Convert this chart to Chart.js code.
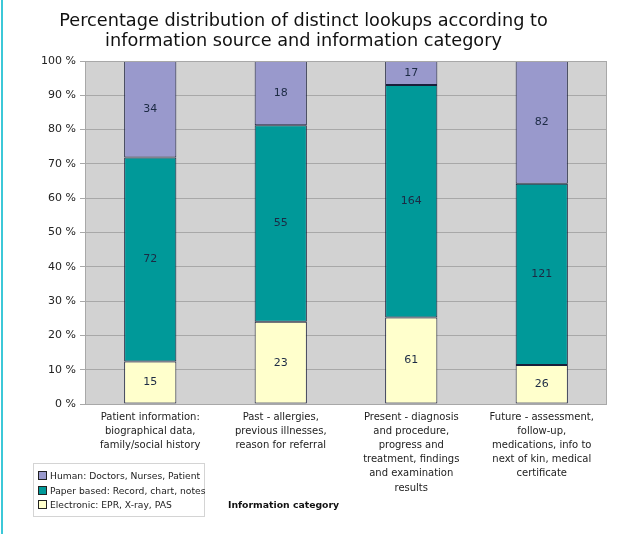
<!DOCTYPE html>
<html>
<head>
<meta charset="utf-8">
<script src="https://cdn.jsdelivr.net/npm/chart.js@4/dist/chart.umd.min.js"></script>
<style>
  html, body { margin: 0; padding: 0; background: #fff; }
  #wrap { position: relative; width: 644px; height: 534px; font-family: "DejaVu Sans", Verdana, sans-serif; }
  #wrap:before { content: ""; position: absolute; left: 1px; top: 0; width: 2px; height: 534px; background: #3cc8d8; }
  #legend { position: absolute; left: 33px; top: 463px; width: 172px; height: 54px; border: 1px solid #d4d4d4; box-sizing: border-box; padding: 5px 0 0 4px; font-size: 9.2px; color: #222; }
  #legend div { height: 14.5px; line-height: 14.5px; white-space: nowrap; }
  #legend span { display: inline-block; width: 7px; height: 7px; border: 1px solid #222; margin-right: 3px; vertical-align: -1px; }
  #xtitle { position: absolute; left: 228px; top: 499px; font-size: 9.3px; font-weight: bold; color: #111; }
</style>
</head>
<body>
<div id="wrap">
  <canvas id="chart" width="644" height="534"></canvas>
  <div id="legend"></div>
  <div id="xtitle">Information category</div>
</div>
<script>
// categories (multi-line tick labels)
const categories = [
  ['Patient information:', 'biographical data,', 'family/social history'],
  ['Past - allergies,', 'previous illnesses,', 'reason for referral'],
  ['Present - diagnosis', 'and procedure,', 'progress and', 'treatment, findings', 'and examination', 'results'],
  ['Future - assessment,', 'follow-up,', 'medications, info to', 'next of kin, medical', 'certificate']
];

// counts shown inside the segments
const electronic = [15, 23, 61, 26];
const paper = [72, 55, 164, 121];
const human = [34, 18, 17, 82];

const yTicks = [0, 10, 20, 30, 40, 50, 60, 70, 80, 90, 100];

const series = [
  { label: 'Electronic: EPR, X-ray, PAS', counts: electronic, color: '#ffffcc' },
  { label: 'Paper based: Record, chart, notes', counts: paper, color: '#009999' },
  { label: 'Human: Doctors, Nurses, Patient', counts: human, color: '#9999cc' }
];

const totals = categories.map((c, i) => electronic[i] + paper[i] + human[i]);

// legend, top to bottom like the original
const legendEl = document.getElementById('legend');
series.slice().reverse().forEach(s => {
  const row = document.createElement('div');
  row.innerHTML = '<span style="background:' + s.color + '"></span>' + s.label;
  legendEl.appendChild(row);
});

const plotBg = {
  id: 'plotBg',
  beforeDraw(chart) {
    const a = chart.chartArea;
    const ctx = chart.ctx;
    ctx.save();
    ctx.fillStyle = '#d2d2d2';
    ctx.fillRect(a.left, a.top, a.right - a.left, a.bottom - a.top);
    ctx.restore();
  },
  afterDraw(chart) {
    const a = chart.chartArea;
    const ctx = chart.ctx;
    ctx.save();
    ctx.strokeStyle = '#a8a8a8';
    ctx.lineWidth = 1;
    ctx.strokeRect(a.left + 0.5, a.top + 0.5, a.right - a.left - 1, a.bottom - a.top);
    ctx.restore();
  }
};

const countLabels = {
  id: 'countLabels',
  afterDatasetsDraw(chart) {
    const ctx = chart.ctx;
    ctx.save();
    ctx.font = '11px "DejaVu Sans", Verdana, sans-serif';
    ctx.fillStyle = '#1c2a44';
    ctx.textAlign = 'center';
    ctx.textBaseline = 'middle';
    chart.data.datasets.forEach((ds, di) => {
      chart.getDatasetMeta(di).data.forEach((bar, i) => {
        ctx.fillText(String(series[di].counts[i]), bar.x, (bar.y + bar.base) / 2);
      });
    });
    ctx.restore();
  }
};

new Chart(document.getElementById('chart').getContext('2d'), {
  type: 'bar',
  data: {
    labels: categories,
    datasets: series.map(s => ({
      label: s.label,
      data: s.counts.map((v, i) => v / totals[i] * 100),
      backgroundColor: s.color,
      borderColor: '#1a1f3a',
      borderWidth: 1,
      borderSkipped: false,
      barPercentage: 0.8,
      categoryPercentage: 0.5
    }))
  },
  options: {
    responsive: false,
    animation: false,
    layout: { padding: { top: 11, right: 37, left: 0, bottom: 0 } },
    plugins: {
      legend: { display: false },
      tooltip: { enabled: false },
      title: {
        display: true,
        text: ['Percentage distribution of distinct lookups according to', 'information source and information category'],
        color: '#111',
        font: { family: '"DejaVu Sans", Verdana, sans-serif', size: 17.7, weight: 'normal', lineHeight: 1.13 },
        padding: { top: 0, bottom: 10 }
      }
    },
    scales: {
      x: {
        stacked: true,
        grid: { display: false, drawTicks: false },
        border: { display: false },
        ticks: {
          color: '#222',
          maxRotation: 0,
          autoSkip: false,
          padding: 6,
          font: { family: '"DejaVu Sans", Verdana, sans-serif', size: 10, lineHeight: 1.42 }
        },
        afterFit(scale) { scale.height = 130; }
      },
      y: {
        stacked: true,
        min: 0,
        max: 100,
        afterBuildTicks(scale) { scale.ticks = yTicks.map(v => ({ value: v })); },
        grid: { color: '#a8a8a8', drawTicks: true, tickLength: 5, tickColor: '#a8a8a8' },
        border: { display: false },
        ticks: {
          color: '#222',
          padding: 4,
          callback: v => v + ' %',
          font: { family: '"DejaVu Sans", Verdana, sans-serif', size: 11 }
        },
        afterFit(scale) { scale.width = 85; }
      }
    }
  },
  plugins: [plotBg, countLabels]
});
</script>
</body>
</html>
